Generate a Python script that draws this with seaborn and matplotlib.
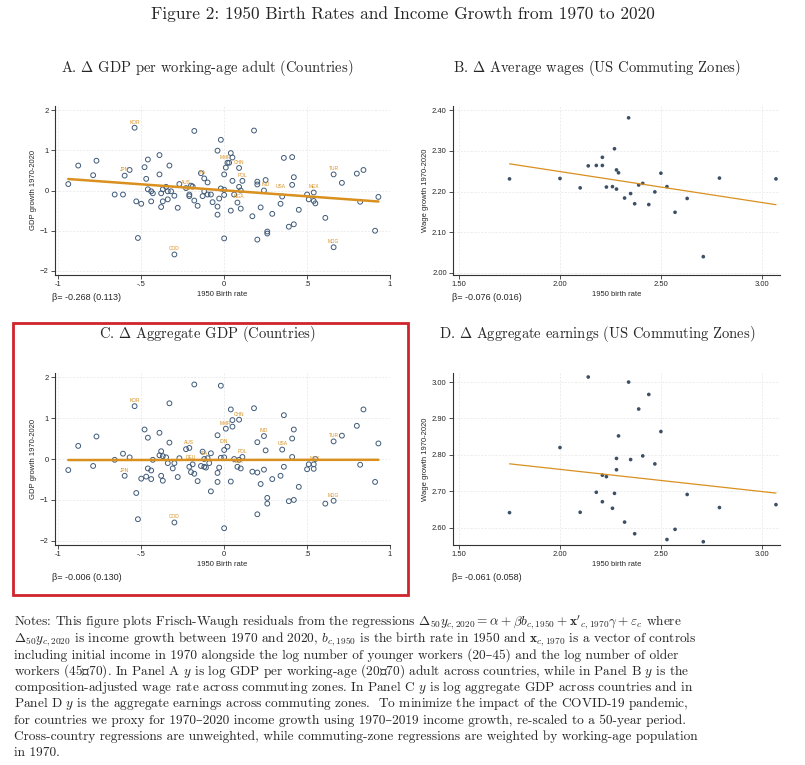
import numpy as np
import pandas as pd
import matplotlib
matplotlib.use("Agg")
import matplotlib.pyplot as plt
import seaborn as sns
from matplotlib.patches import Rectangle

# ---- Panel A: change in GDP per working-age adult (countries)
birth_a = [-0.94, -0.88, -0.77, -0.79, -0.66, -0.61, -0.60, -0.57, -0.54, -0.53, -0.52, -0.50,
           -0.48, -0.47, -0.46, -0.46, -0.44, -0.44, -0.43, -0.39, -0.39, -0.38, -0.38, -0.37,
           -0.37, -0.35, -0.34, -0.34, -0.33, -0.32, -0.30, -0.28, -0.27, -0.30, -0.23, -0.21,
           -0.21, -0.20, -0.19, -0.18, -0.18, -0.16, -0.14, -0.13, -0.12, -0.12, -0.10, -0.10,
           -0.08, -0.07, -0.04, -0.04, -0.04, -0.03, -0.02, -0.02, 0.00, 0.00, 0.00, 0.00,
           0.01, 0.02, 0.03, 0.04, 0.04, 0.05, 0.05, 0.06, 0.08, 0.09, 0.09, 0.10, 0.10, 0.11,
           0.17, 0.18, 0.20, 0.20, 0.20, 0.22, 0.24, 0.25, 0.26, 0.26, 0.29, 0.34, 0.35, 0.36,
           0.39, 0.41, 0.41, 0.42, 0.42, 0.45, 0.50, 0.51, 0.54, 0.54, 0.55, 0.61, 0.66, 0.66,
           0.71, 0.80, 0.82, 0.84, 0.91, 0.93]
gdp_a = [0.16, 0.62, 0.74, 0.38, -0.10, -0.10, 0.37, 0.51, 1.56, -0.27, -1.18, -0.33,
         0.58, 0.29, 0.77, 0.03, -0.02, -0.27, -0.07, 0.88, 0.40, -0.41, -0.07, -0.27,
         0.03, 0.09, -0.02, -0.22, 0.62, -0.02, -0.13, -0.43, 0.16, -1.59, 0.06, -0.14,
         -0.10, 0.12, 0.10, 1.48, -0.25, -0.38, 0.43, -0.14, 0.30, -0.02, -0.10, 0.20,
         -0.10, -0.29, 0.99, -0.60, -0.40, -0.20, 0.05, 1.26, 0.40, -1.19, -0.11, 0.02,
         0.57, 0.69, 0.69, -0.50, 0.93, 0.82, 0.24, -0.10, -0.30, 0.56, 0.09, 0.00, -0.45, 0.24,
         -0.64, 1.49, 0.15, 0.22, -1.22, -0.42, 0.00, 0.26, -1.02, -1.07, -0.58, -0.33, -0.15, 0.81,
         -0.90, 0.83, 0.14, 0.33, -0.84, -0.48, -0.10, -0.22, -0.26, -0.05, -0.32, -0.68, -1.41, 0.40,
         0.19, 0.42, -0.28, 0.51, -1.00, -0.16]
codes_a = ["KOR", "JPN", "AUS", "DEU", "ITA", "MMR", "CHN", "POL", "NGA", "IND", "USA", "MEX", "TUR", "MDG", "COD"]
code_x_a = [-0.54, -0.60, -0.23, -0.21, -0.13, 0.01, 0.09, 0.11, 0.09, 0.25, 0.34, 0.54, 0.66, 0.66, -0.30]
code_y_a = [1.56, 0.37, 0.06, -0.10, 0.30, 0.69, 0.56, 0.24, -0.30, 0.00, -0.05, -0.05, 0.40, -1.41, -1.59]

# ---- Panel C: change in aggregate GDP (countries)
birth_c = [-0.94, -0.88, -0.79, -0.77, -0.66, -0.61, -0.60, -0.57, -0.54, -0.53, -0.52, -0.50,
           -0.48, -0.47, -0.46, -0.46, -0.44, -0.44, -0.43, -0.39, -0.39, -0.38, -0.38, -0.37,
           -0.37, -0.35, -0.34, -0.33, -0.33, -0.31, -0.30, -0.30, -0.28, -0.27, -0.23, -0.21,
           -0.21, -0.20, -0.19, -0.18, -0.18, -0.16, -0.14, -0.13, -0.12, -0.12, -0.11, -0.10,
           -0.09, -0.08, -0.08, -0.04, -0.04, -0.04, -0.03, -0.02, -0.02, 0.00, 0.00, 0.00,
           0.01, 0.02, 0.04, 0.04, 0.05, 0.05, 0.06, 0.08, 0.09, 0.09, 0.10, 0.11,
           0.17, 0.18, 0.20, 0.20, 0.20, 0.22, 0.24, 0.25, 0.24, 0.26, 0.26, 0.29, 0.34, 0.35,
           0.36, 0.36, 0.39, 0.41, 0.41, 0.42, 0.42, 0.45, 0.50, 0.51, 0.54, 0.54, 0.55, 0.61,
           0.66, 0.66, 0.71, 0.80, 0.82, 0.84, 0.91, 0.93]
gdp_c = [-0.27, 0.32, -0.17, 0.55, -0.02, 0.13, -0.41, 0.04, 1.29, -0.83, -1.47, -0.48,
         0.72, -0.43, 0.52, -0.23, -0.28, -0.49, -0.02, 0.64, 0.09, -0.41, 0.19, -0.53,
         0.07, 0.04, -0.10, 0.40, 1.36, -0.23, -0.10, -1.55, -0.44, 0.02, 0.24, 0.27,
         -0.19, -0.32, -0.13, 1.82, -0.36, -0.54, -0.17, 0.18, -0.19, 0.00, -0.21, 0.02,
         -0.10, 0.14, -0.79, 0.58, -0.56, -0.34, -0.21, 0.03, 1.79, -1.69, 0.22, 0.04,
         0.74, 0.30, -0.55, 1.21, 0.79, 0.95, 0.00, -0.19, 0.96, -0.02, -0.23, 0.05,
         -0.31, 1.24, -0.33, 0.41, -1.35, -0.61, 0.56, 0.21, -0.26, -0.95, -1.09, -0.49, -0.41, 0.23,
         1.07, -0.19, -1.03, 0.50, 0.05, 0.72, -1.00, -0.68, -0.25, -0.13, -0.13, -0.24, 0.00, -1.09,
         -1.02, 0.43, 0.57, 0.81, -0.14, 1.21, -0.56, 0.38]
codes_c = ["KOR", "JPN", "AUS", "DEU", "ITA", "MMR", "CHN", "IDN", "POL", "NGA", "IND", "USA", "MEX", "TUR", "MDG", "COD"]
code_x_c = [-0.54, -0.60, -0.21, -0.20, -0.12, 0.01, 0.09, 0.00, 0.11, 0.08, 0.24, 0.35, 0.55, 0.66, 0.66, -0.30]
code_y_c = [1.29, -0.41, 0.27, -0.10, 0.00, 0.74, 0.96, 0.30, 0.05, -0.19, 0.56, 0.23, -0.13, 0.43, -1.02, -1.55]

# ---- Panels B and D: commuting zones
birth_cz = [1.75, 2.00, 2.10, 2.14, 2.18, 2.21, 2.21, 2.23, 2.26, 2.27, 2.28, 2.28, 2.29, 2.32,
            2.34, 2.35, 2.37, 2.39, 2.41, 2.44, 2.47, 2.50, 2.53, 2.57, 2.63, 2.71, 2.79, 3.07]
wage_b = [2.231, 2.232, 2.209, 2.263, 2.264, 2.284, 2.264, 2.211, 2.212, 2.305, 2.253, 2.206, 2.246, 2.184,
          2.381, 2.195, 2.170, 2.216, 2.220, 2.168, 2.199, 2.245, 2.212, 2.149, 2.183, 2.040, 2.233, 2.231]
earn_d = [2.641, 2.820, 2.642, 3.014, 2.697, 2.744, 2.671, 2.740, 2.653, 2.694, 2.759, 2.790, 2.852, 2.615,
          3.000, 2.787, 2.583, 2.926, 2.797, 2.966, 2.775, 2.864, 2.567, 2.595, 2.691, 2.561, 2.655, 2.663]
# weighted fits (slope, intercept) for the commuting-zone panels
fit_b = (-0.076, 2.401)
fit_d = (-0.061, 2.882)

betas = ["-0.268 (0.113)", "-0.076 (0.016)", "-0.006 (0.130)", "-0.061 (0.058)"]

plt.rcParams["mathtext.fontset"] = "cm"
sns.set_style("white")
plt.rcParams["font.family"] = ["Liberation Sans", "DejaVu Sans"]

fig = plt.figure(figsize=(8.05, 7.65), dpi=100)
W, H = 805, 765


def add_ax(x0, y0, x1, y1):
    return fig.add_axes([x0 / W, 1 - y1 / H, (x1 - x0) / W, (y1 - y0) / H])


ORANGE = "#d9901f"
NAVY = "#3f5a78"
serif = ["cmr10", "DejaVu Serif"]

fig.text(0.5, 1 - 14 / H, "Figure 2: 1950 Birth Rates and Income Growth from 1970 to 2020",
         ha="center", va="center", fontsize=12.5, family=serif)
titles = [(207, 68, r"A. $\Delta$ GDP per working-age adult (Countries)"),
          (597, 68, r"B. $\Delta$ Average wages (US Commuting Zones)"),
          (207, 334, r"C. $\Delta$ Aggregate GDP (Countries)"),
          (597, 334, r"D. $\Delta$ Aggregate earnings (US Commuting Zones)")]
for tx, ty, t in titles:
    fig.text(tx / W, 1 - ty / H, t, ha="center", va="center", fontsize=10.5, family=serif)


def style(ax, xlabel, ylabel):
    for s in ["top", "right"]:
        ax.spines[s].set_visible(False)
    for s in ["left", "bottom"]:
        ax.spines[s].set_color("#333333")
        ax.spines[s].set_linewidth(0.8)
    ax.grid(True, color="#e6e6e6", linestyle=(0, (3, 2)), linewidth=0.5)
    ax.tick_params(axis="both", labelsize=5.5, length=3, width=0.6, pad=1.5,
                   left=True, bottom=True, color="#333333")
    ax.set_xlabel(xlabel, fontsize=5.5, labelpad=2)
    ax.set_ylabel(ylabel, fontsize=5.5, labelpad=2)


def country_panel(ax, bx, gy, codes, cx, cy):
    df = pd.DataFrame({"birth": bx, "gdp": gy})
    sns.scatterplot(data=df, x="birth", y="gdp", ax=ax, s=12, facecolor="none",
                    edgecolor=NAVY, linewidth=0.7)
    slope, icpt = np.polyfit(df["birth"], df["gdp"], 1)
    xs = np.array([df["birth"].min(), df["birth"].max()])
    sns.lineplot(x=xs, y=icpt + slope * xs, ax=ax, color=ORANGE, linewidth=1.8)
    for c, x, y in zip(codes, cx, cy):
        ax.annotate(c, (x, y), xytext=(0, 3), textcoords="offset points",
                    ha="center", fontsize=3.5, color=ORANGE)
    ax.set_xlim(-1.02, 1.0)
    ax.set_ylim(-2.1, 2.1)
    ax.set_xticks([-1, -0.5, 0, 0.5, 1])
    ax.set_xticklabels(["-1", "-.5", "0", ".5", "1"])
    ax.set_yticks([-2, -1, 0, 1, 2])
    style(ax, "1950 Birth rate", "GDP growth 1970-2020")


def cz_panel(ax, yv, fit, ylim, yticks, ylabel):
    df = pd.DataFrame({"birth": birth_cz, "y": yv})
    sns.scatterplot(data=df, x="birth", y="y", ax=ax, s=7, color="#3b4f66", edgecolor="none")
    xs = np.array([df["birth"].min(), df["birth"].max()])
    sns.lineplot(x=xs, y=fit[1] + fit[0] * xs, ax=ax, color=ORANGE, linewidth=0.9)
    ax.set_xlim(1.47, 3.09)
    ax.set_ylim(*ylim)
    ax.set_xticks([1.5, 2.0, 2.5, 3.0])
    ax.set_xticklabels(["1.50", "2.00", "2.50", "3.00"])
    ax.set_yticks(yticks)
    ax.set_yticklabels([f"{v:.2f}" for v in yticks])
    style(ax, "1950 birth rate", ylabel)


axA = add_ax(55, 106, 390, 275)
country_panel(axA, birth_a, gdp_a, codes_a, code_x_a, code_y_a)
axB = add_ax(453, 106, 780, 275)
cz_panel(axB, wage_b, fit_b, (1.995, 2.41), [2.0, 2.1, 2.2, 2.3, 2.4], "Wage growth 1970-2020")
axC = add_ax(55, 373, 390, 545)
country_panel(axC, birth_c, gdp_c, codes_c, code_x_c, code_y_c)
axD = add_ax(453, 373, 780, 545)
cz_panel(axD, earn_d, fit_d, (2.552, 3.025), [2.6, 2.7, 2.8, 2.9, 3.0], "Wage growth 1970-2020")

for (bx, by), b in zip([(52, 298), (452, 298), (52, 578), (452, 578)], betas):
    fig.text(bx / W, 1 - by / H, "\u03b2= " + b, fontsize=6.5, va="center")

fig.patches.append(Rectangle((13 / W, 1 - 595 / H), 395 / W, 272 / H, transform=fig.transFigure,
                             fill=False, edgecolor="#d0242b", linewidth=2))

notes = [
    r"Notes: This figure plots Frisch-Waugh residuals from the regressions $\Delta_{50}y_{c,2020} = \alpha + \beta b_{c,1950} + \mathbf{x}'_{c,1970}\gamma + \varepsilon_c$ where",
    r"$\Delta_{50}y_{c,2020}$ is income growth between 1970 and 2020, $b_{c,1950}$ is the birth rate in 1950 and $\mathbf{x}_{c,1970}$ is a vector of controls",
    "including initial income in 1970 alongside the log number of younger workers (20–45) and the log number of older",
    "workers (45–70). In Panel A $y$ is log GDP per working-age (20–70) adult across countries, while in Panel B $y$ is the",
    "composition-adjusted wage rate across commuting zones. In Panel C $y$ is log aggregate GDP across countries and in",
    "Panel D $y$ is the aggregate earnings across commuting zones.  To minimize the impact of the COVID-19 pandemic,",
    "for countries we proxy for 1970–2020 income growth using 1970–2019 income growth, re-scaled to a 50-year period.",
    "Cross-country regressions are unweighted, while commuting-zone regressions are weighted by working-age population",
    "in 1970.",
]
for i, line in enumerate(notes):
    fig.text(14 / W, 1 - (623 + i * 16.2) / H, line, fontsize=9.6, family=serif, va="center")

fig.savefig("out.png", dpi=100)
